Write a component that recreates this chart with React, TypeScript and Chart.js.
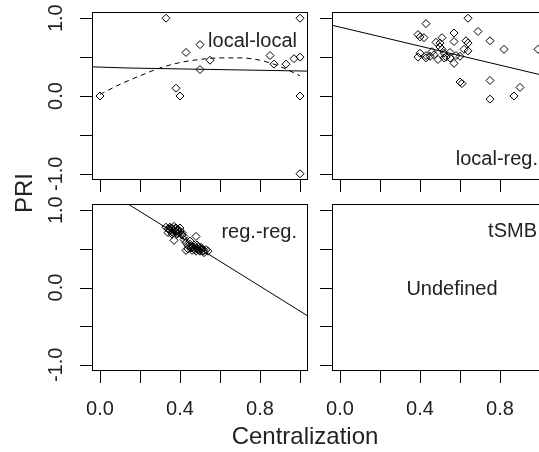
import React, { useEffect, useRef } from "react";
import { Chart, registerables } from "chart.js";

Chart.register(...registerables);

// ---------- data ----------
const xTickValues = [0, 0.2, 0.4, 0.6, 0.8, 1.0];
const xTickLabels = ["0.0", "", "0.4", "", "0.8", ""];
const yTickValues = [-1, -0.5, 0, 0.5, 1];
const yTickLabels = ["-1.0", "", "0.0", "", "1.0"];

// local-local
const llX = [0.0, 0.33, 0.38, 0.40, 0.43, 0.50, 0.50, 0.55, 0.85, 0.87, 0.93, 0.97, 1.0, 1.0, 1.0, 1.0];
const llY = [0.0, 1.0, 0.10, 0.0, 0.56, 0.66, 0.34, 0.46, 0.52, 0.41, 0.41, 0.48, 0.50, 1.0, 0.0, -1.0];
const llFitX = [-0.04, 0.14, 1.04];
const llFitY = [0.375, 0.36, 0.32];
const llCurveX = [0.0, 0.1, 0.2, 0.3, 0.4, 0.5, 0.6, 0.7, 0.8, 0.9, 1.0];
const llCurveY = [0.02, 0.15, 0.26, 0.36, 0.43, 0.47, 0.49, 0.49, 0.46, 0.38, 0.26];

// local-reg.
const lrX = [0.64, 0.43, 0.39, 0.42, 0.40, 0.57, 0.51, 0.69, 0.75, 0.82, 0.99, 0.57, 0.63, 0.48, 0.50, 0.64, 0.62, 0.64, 0.40, 0.39, 0.43, 0.45, 0.49, 0.52, 0.53, 0.55, 0.57, 0.60, 0.52, 0.51, 0.50, 0.43, 0.60, 0.61, 0.75, 0.75, 0.90, 0.87, 0.47, 0.55, 0.58, 0.46];
const lrY = [1.00, 0.93, 0.79, 0.75, 0.76, 0.81, 0.75, 0.83, 0.71, 0.60, 0.60, 0.70, 0.71, 0.69, 0.68, 0.68, 0.60, 0.58, 0.55, 0.50, 0.52, 0.51, 0.47, 0.55, 0.50, 0.49, 0.42, 0.51, 0.49, 0.60, 0.63, 0.49, 0.18, 0.16, 0.20, -0.04, 0.11, 0.00, 0.53, 0.56, 0.52, 0.57];
const lrFitX = [-0.04, 1.04];
const lrFitY = [0.91, 0.25];

// reg.-reg.
const rrX = [0.33, 0.34, 0.35, 0.35, 0.36, 0.36, 0.37, 0.37, 0.38, 0.38, 0.39, 0.39, 0.40, 0.40, 0.41, 0.41, 0.42, 0.37, 0.34, 0.36,
  0.43, 0.44, 0.44, 0.45, 0.46, 0.46, 0.47, 0.47, 0.48, 0.48, 0.49, 0.49, 0.50, 0.50, 0.51, 0.52, 0.52, 0.53, 0.54, 0.43, 0.42, 0.45,
  0.345, 0.355, 0.365, 0.375, 0.385, 0.395, 0.365, 0.385, 0.455, 0.465, 0.475, 0.485, 0.495, 0.505, 0.515, 0.455, 0.485, 0.505];
const rrY = [0.78, 0.76, 0.74, 0.78, 0.72, 0.76, 0.79, 0.74, 0.77, 0.72, 0.75, 0.70, 0.73, 0.77, 0.71, 0.68, 0.66, 0.61, 0.71, 0.69,
  0.58, 0.54, 0.50, 0.56, 0.52, 0.48, 0.55, 0.50, 0.66, 0.47, 0.53, 0.49, 0.51, 0.47, 0.50, 0.48, 0.45, 0.49, 0.47, 0.48, 0.62, 0.60,
  0.75, 0.77, 0.75, 0.76, 0.74, 0.72, 0.71, 0.69, 0.51, 0.53, 0.49, 0.51, 0.48, 0.49, 0.47, 0.53, 0.55, 0.52];
const rrFitX = [-0.04, 1.04];
const rrFitY = [1.37, -0.37];

// ---------- layout ----------
const W = 560;
const H = 452;
const FONT = '"Liberation Sans", Arial, Helvetica, sans-serif';
const INK = "#222";

type Box = { l: number; t: number; r: number; b: number };
type Note = { text: string; x: number; y: number; align: CanvasTextAlign };
type PanelSpec = {
  box: Box;
  datasets: any[];
  xLabels: boolean;
  yLabels: boolean;
  notes: Note[];
  titles?: boolean;
};

const pts = (xs: number[], ys: number[]) => xs.map((x, i) => ({ x, y: ys[i] }));

const scatterDs = (xs: number[], ys: number[]) => ({
  type: "scatter",
  data: pts(xs, ys),
  pointStyle: "rectRot",
  pointRadius: 4,
  pointBorderWidth: 1,
  borderColor: "#000",
  pointBorderColor: "#000",
  backgroundColor: "rgba(0,0,0,0)",
  pointBackgroundColor: "rgba(0,0,0,0)",
  showLine: false,
});

const lineDs = (xs: number[], ys: number[], dash: number[] = [], tension = 0) => ({
  type: "line",
  data: pts(xs, ys),
  borderColor: "#000",
  borderWidth: 1,
  borderDash: dash,
  pointRadius: 0,
  fill: false,
  tension,
  cubicInterpolationMode: tension > 0 ? "monotone" : "default",
});

function makeFrame(spec: PanelSpec) {
  return {
    id: "rframe",
    afterDraw(chart: any) {
      const ctx: CanvasRenderingContext2D = chart.ctx;
      const { left, top, right, bottom } = chart.chartArea;
      const xs = chart.scales.x;
      const ys = chart.scales.y;
      ctx.save();
      ctx.strokeStyle = "#000";
      ctx.lineWidth = 1;
      ctx.strokeRect(left + 0.5, top + 0.5, right - left - 1, bottom - top - 1);
      ctx.beginPath();
      yTickValues.forEach((v) => {
        const py = Math.round(ys.getPixelForValue(v)) + 0.5;
        ctx.moveTo(left - 12, py);
        ctx.lineTo(left + 0.5, py);
      });
      xTickValues.forEach((v) => {
        const px = Math.round(xs.getPixelForValue(v)) + 0.5;
        ctx.moveTo(px, bottom - 0.5);
        ctx.lineTo(px, bottom + 12);
      });
      ctx.stroke();

      ctx.fillStyle = INK;
      ctx.font = `20px ${FONT}`;
      ctx.textBaseline = "middle";
      if (spec.xLabels) {
        ctx.textAlign = "center";
        xTickValues.forEach((v, i) => {
          if (!xTickLabels[i]) return;
          ctx.fillText(xTickLabels[i], xs.getPixelForValue(v), bottom + 38);
        });
      }
      if (spec.yLabels) {
        ctx.textAlign = "center";
        yTickValues.forEach((v, i) => {
          if (!yTickLabels[i]) return;
          ctx.save();
          ctx.translate(left - 36, ys.getPixelForValue(v));
          ctx.rotate(-Math.PI / 2);
          ctx.fillText(yTickLabels[i], 0, 0);
          ctx.restore();
        });
      }
      ctx.font = `20px ${FONT}`;
      spec.notes.forEach((n) => {
        ctx.textAlign = n.align;
        ctx.fillText(n.text, xs.getPixelForValue(n.x), ys.getPixelForValue(n.y));
      });
      if (spec.titles) {
        ctx.font = `24px ${FONT}`;
        ctx.textAlign = "center";
        ctx.fillText("Centralization", 305, 437);
        ctx.save();
        ctx.translate(25, 193);
        ctx.rotate(-Math.PI / 2);
        ctx.fillText("PRI", 0, 0);
        ctx.restore();
      }
      ctx.restore();
    },
  };
}

function Panel({ spec }: { spec: PanelSpec }) {
  const ref = useRef<HTMLCanvasElement | null>(null);
  useEffect(() => {
    if (!ref.current) return;
    const { l, t, r, b } = spec.box;
    const chart = new Chart(ref.current, {
      type: "scatter",
      data: { datasets: spec.datasets },
      options: {
        responsive: false,
        animation: false,
        devicePixelRatio: 1,
        layout: { padding: { left: l, top: t, right: W - r, bottom: H - b } },
        scales: {
          x: { type: "linear", display: false, min: -0.04, max: 1.04 },
          y: { type: "linear", display: false, min: -1.08, max: 1.08 },
        },
        plugins: { legend: { display: false }, tooltip: { enabled: false } },
        events: [],
      },
      plugins: [makeFrame(spec)],
    } as any);
    return () => chart.destroy();
  }, [spec]);
  return (
    <canvas
      ref={ref}
      width={W}
      height={H}
      style={{ position: "absolute", left: 0, top: 0, width: W, height: H }}
    />
  );
}

const panels: PanelSpec[] = [
  {
    box: { l: 92, t: 12, r: 308, b: 180 },
    datasets: [
      scatterDs(llX, llY),
      lineDs(llFitX, llFitY),
      lineDs(llCurveX, llCurveY, [5, 4], 0.4),
    ],
    xLabels: false,
    yLabels: true,
    notes: [{ text: "local-local", x: 0.985, y: 0.7, align: "right" }],
  },
  {
    box: { l: 332, t: 12, r: 548, b: 180 },
    datasets: [scatterDs(lrX, lrY), lineDs(lrFitX, lrFitY)],
    xLabels: false,
    yLabels: false,
    notes: [{ text: "local-reg.", x: 0.99, y: -0.81, align: "right" }],
  },
  {
    box: { l: 92, t: 204, r: 308, b: 371 },
    datasets: [scatterDs(rrX, rrY), lineDs(rrFitX, rrFitY)],
    xLabels: true,
    yLabels: true,
    notes: [{ text: "reg.-reg.", x: 0.985, y: 0.71, align: "right" }],
    titles: true,
  },
  {
    box: { l: 332, t: 204, r: 548, b: 371 },
    datasets: [],
    xLabels: true,
    yLabels: false,
    notes: [
      { text: "tSMB", x: 0.985, y: 0.73, align: "right" },
      { text: "Undefined", x: 0.56, y: -0.03, align: "center" },
    ],
  },
];

export default function App() {
  return (
    <div
      style={{
        position: "fixed",
        left: 0,
        top: 0,
        width: 539,
        height: 452,
        overflow: "hidden",
        background: "#fff",
      }}
    >
      {panels.map((p, i) => (
        <Panel key={i} spec={p} />
      ))}
    </div>
  );
}
